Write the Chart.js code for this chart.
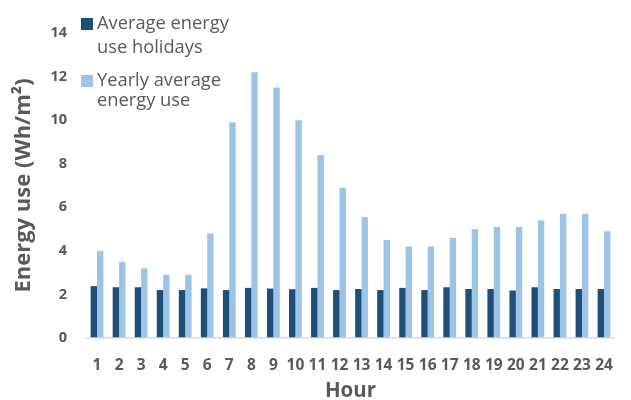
<!DOCTYPE html>
<html>
<head>
<meta charset="utf-8">
<script src="https://cdn.jsdelivr.net/npm/chart.js@4/dist/chart.umd.min.js"></script>
<style>
  html, body { margin: 0; padding: 0; background: #ffffff; }
  #wrap { width: 631px; height: 400px; position: relative; }
</style>
</head>
<body>
<div id="wrap"><canvas id="chart" width="631" height="400"></canvas></div>
<script>
// Hours of the day
const hours = ['1','2','3','4','5','6','7','8','9','10','11','12','13','14','15','16','17','18','19','20','21','22','23','24'];

// Energy use per hour (Wh/m²)
const holidayUse = [2.38, 2.33, 2.33, 2.2, 2.2, 2.28, 2.2, 2.3, 2.27, 2.24, 2.3, 2.2, 2.25, 2.2, 2.3, 2.2, 2.33, 2.25, 2.25, 2.18, 2.33, 2.25, 2.25, 2.25];
const yearlyUse  = [4.0, 3.5, 3.2, 2.9, 2.9, 4.8, 9.9, 12.2, 11.5, 10.0, 8.4, 6.9, 5.55, 4.5, 4.2, 4.2, 4.6, 5.0, 5.1, 5.1, 5.4, 5.7, 5.7, 4.9];

// Legend entries (two-line labels)
const seriesNames = [['Average energy', 'use holidays'], ['Yearly average', 'energy use']];
const yTicks = [0, 2, 4, 6, 8, 10, 12, 14];

const DARK = '#1f4e79';
const LIGHT = '#9dc3e6';
const TEXT = '#595959';
const FONT = "'Open Sans', 'DejaVu Sans', sans-serif";

// Two-line legend drawn inside the plot area, top-left
const insideLegend = {
  id: 'insideLegend',
  afterDraw(chart) {
    const ctx = chart.ctx;
    const colors = [DARK, LIGHT];
    const rows = [{ box: 18, lines: [29, 53] }, { box: 75, lines: [86, 106] }];
    ctx.save();
    ctx.font = '18.3px ' + FONT;
    ctx.textBaseline = 'alphabetic';
    ctx.textAlign = 'left';
    chart.data.datasets.forEach((ds, i) => {
      ctx.fillStyle = colors[i];
      ctx.fillRect(81, rows[i].box, 12, 12);
      ctx.fillStyle = TEXT;
      seriesNames[i].forEach((line, j) => ctx.fillText(line, 97, rows[i].lines[j]));
    });
    ctx.restore();
  }
};

new Chart(document.getElementById('chart'), {
  type: 'bar',
  data: {
    labels: hours,
    datasets: [
      { label: seriesNames[0].join(' '), data: holidayUse, backgroundColor: DARK },
      { label: seriesNames[1].join(' '), data: yearlyUse, backgroundColor: LIGHT }
    ]
  },
  options: {
    responsive: false,
    animation: false,
    devicePixelRatio: 1,
    layout: { padding: { top: 33, right: 6, bottom: 0, left: 0 } },
    datasets: { bar: { categoryPercentage: 0.58, barPercentage: 1.0 } },
    plugins: { legend: { display: false }, tooltip: { enabled: false } },
    scales: {
      x: {
        grid: { display: false, drawTicks: false },
        border: { display: false },
        ticks: { color: TEXT, font: { family: FONT, size: 15.5, weight: 'bold' }, padding: 18, maxRotation: 0, autoSkip: false },
        title: { display: true, text: 'Hour', color: TEXT, font: { family: FONT, size: 20.5, weight: 'bold', lineHeight: 0.85 }, padding: { top: 0, bottom: 0 } },
        afterFit(scale) { scale.height = 62; }
      },
      y: {
        min: 0,
        max: 14,
        afterBuildTicks(scale) { scale.ticks = yTicks.map(v => ({ value: v })); },
        grid: {
          drawTicks: false,
          color: c => (c.tick && c.tick.value === 0 ? '#d9d9d9' : 'rgba(0,0,0,0)'),
          lineWidth: 1.5
        },
        border: { display: false },
        ticks: { color: TEXT, font: { family: FONT, size: 14.5, weight: 'bold' }, padding: 19 },
        title: { display: true, text: 'Energy use (Wh/m²)', color: TEXT, font: { family: FONT, size: 22, weight: 'bold' }, padding: { top: 11, bottom: 0 } },
        afterFit(scale) { scale.width = 86; }
      }
    }
  },
  plugins: [insideLegend]
});
</script>
</body>
</html>
